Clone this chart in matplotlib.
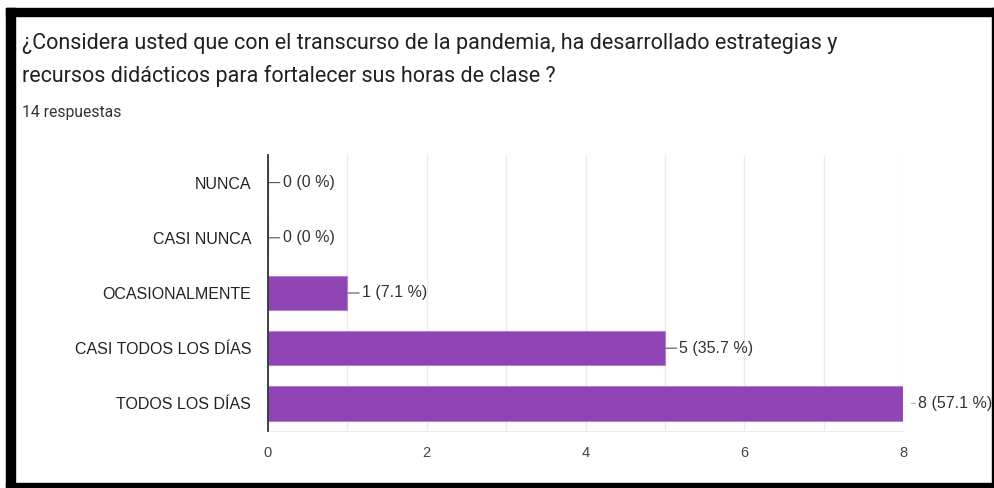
import matplotlib.pyplot as plt
from matplotlib.patches import Rectangle
from matplotlib.ticker import MultipleLocator

# Datos de la encuesta
categorias = ['NUNCA', 'CASI NUNCA', 'OCASIONALMENTE', 'CASI TODOS LOS DÍAS', 'TODOS LOS DÍAS']
respuestas = [0, 0, 1, 5, 8]
porcentajes = ['0 %', '0 %', '7.1 %', '35.7 %', '57.1 %']
total = 14
titulo = ['¿Considera usted que con el transcurso de la pandemia, ha desarrollado estrategias y',
          'recursos didácticos para fortalecer sus horas de clase ?']

W, H = 995, 488
fig = plt.figure(figsize=(W / 100, H / 100), dpi=100)
fig.patch.set_facecolor('white')

# marco negro de la captura
def px_rect(x0, y0, x1, y1):
    fig.patches.append(Rectangle((x0 / W, 1 - y1 / H), (x1 - x0) / W, (y1 - y0) / H,
                                 transform=fig.transFigure, color='black', zorder=0))

px_rect(6, 8, 995, 16)
px_rect(6, 8, 15, 487)
px_rect(6, 483, 995, 487)
px_rect(992, 8, 995, 487)

for linea, ypx in zip(titulo, [44, 76]):
    fig.text(22 / W, 1 - ypx / H, linea, fontsize=15.5, color='#202124', family='Roboto',
             va='center', ha='left')
fig.text(22 / W, 1 - 112 / H, f'{total} respuestas', fontsize=11.3, color='#333333',
         family='Roboto', va='center', ha='left')

ax = fig.add_axes([268 / W, 1 - 431 / H, (903 - 268) / W, (431 - 155) / H])
y = list(range(len(categorias)))
ax.barh(y, respuestas, height=0.62, color='#8e44b5', edgecolor='#b583cc', linewidth=0.8, zorder=3)
ax.set_xlim(0, 8)
ax.set_ylim(len(categorias) - 0.5, -0.5)
ax.set_yticks(y)
ax.set_yticklabels(categorias, family='Liberation Sans', fontsize=11.5, color='#222222')
ax.xaxis.set_major_locator(MultipleLocator(2))
ax.xaxis.set_minor_locator(MultipleLocator(1))
ax.tick_params(axis='x', which='both', length=0, pad=11, labelsize=10.5, labelcolor='#444444')
ax.tick_params(axis='y', length=0, pad=12)
for lab in ax.get_xticklabels():
    lab.set_family('Liberation Sans')
ax.grid(axis='x', which='both', color='#ebebeb', linewidth=1, zorder=0)

for s in ['top', 'right']:
    ax.spines[s].set_visible(False)
ax.spines['bottom'].set_color('#ebebeb')
ax.spines['left'].set_color('#333333')
ax.spines['left'].set_linewidth(1.3)
ax.spines['left'].set_zorder(4)

for yi, v, p in zip(y, respuestas, porcentajes):
    etiqueta = f'{v} ({p})'
    if v == max(respuestas):
        ax.annotate(etiqueta, xy=(v, yi), xytext=(11, 0), textcoords='offset points',
                    va='center', ha='left', fontsize=11.5, color='#333333',
                    family='Liberation Sans', annotation_clip=False,
                    arrowprops=dict(arrowstyle='-', color='#bbbbbb', lw=0.8, shrinkA=0, shrinkB=6))
    else:
        ax.annotate(etiqueta, xy=(v, yi), xytext=(10.5, 0), textcoords='offset points',
                    va='center', ha='left', fontsize=11.5, color='#333333',
                    family='Liberation Sans',
                    arrowprops=dict(arrowstyle='-', color='#555555', lw=0.8, shrinkA=0, shrinkB=0.5))

fig.savefig('out.png', dpi=100)
